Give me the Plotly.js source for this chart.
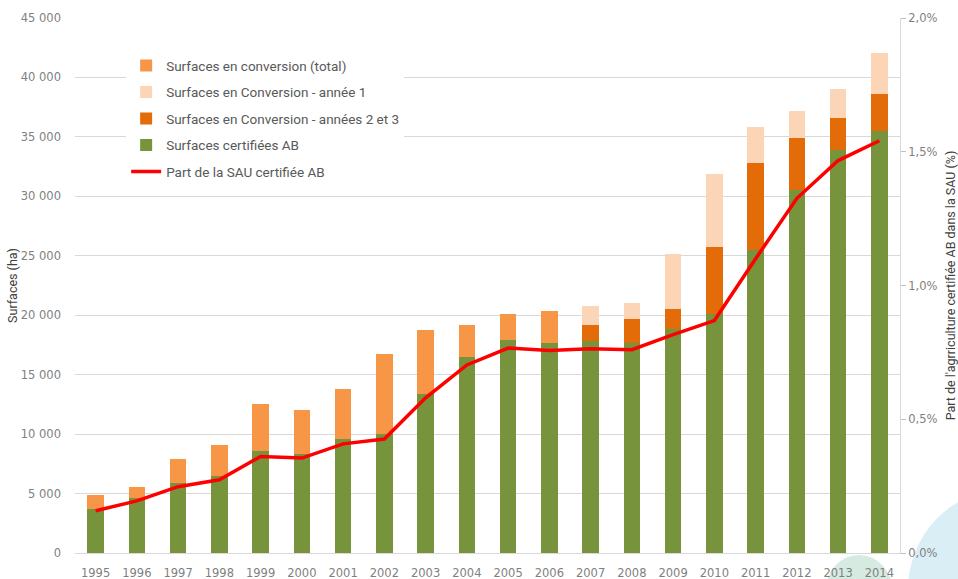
<!DOCTYPE html>
<html>
<head>
<meta charset="utf-8">
<script src="https://cdn.plot.ly/plotly-3.0.1.min.js"></script>
<style>
  html, body { margin: 0; padding: 0; background: #ffffff; }
  #chart { width: 958px; height: 579px; }
</style>
</head>
<body>
<div id="chart"></div>
<script>
// ---- Data ----
var years = ["1995","1996","1997","1998","1999","2000","2001","2002","2003","2004",
             "2005","2006","2007","2008","2009","2010","2011","2012","2013","2014"];

// Surfaces certifiées AB (ha)
var certifiees = [3720, 4590, 5850, 6500, 8540, 8340, 9600, 10050, 13390, 16470,
                  17920, 17670, 17810, 17650, 18870, 20110, 25490, 30530, 33920, 35510];

// Surfaces en conversion (total) (ha) - only detailed as a total until 2006
var conversionTotal = [1180, 980, 2020, 2600, 3980, 3730, 4230, 6720, 5400, 2720,
                       2190, 2690, null, null, null, null, null, null, null, null];

// Surfaces en Conversion - années 2 et 3 (ha)
var conversionAn23 = [null, null, null, null, null, null, null, null, null, null,
                      null, null, 1370, 2040, 1680, 5600, 7310, 4390, 2660, 3060];

// Surfaces en Conversion - année 1 (ha)
var conversionAn1 = [null, null, null, null, null, null, null, null, null, null,
                     null, null, 1620, 1340, 4580, 6190, 3000, 2270, 2440, 3500];

// Part de la SAU certifiée AB (%)
var partSAU = [0.158, 0.195, 0.248, 0.274, 0.361, 0.355, 0.408, 0.426, 0.580, 0.703,
               0.766, 0.757, 0.764, 0.760, 0.816, 0.869, 1.100, 1.326, 1.467, 1.541];

var tickFont = {family: "'DejaVu Sans', sans-serif", stretch: 'condensed', size: 11.5, color: '#7F7F7F'};
var textFont = "Roboto, 'Open Sans', sans-serif";

var traces = [
  {
    type: 'bar', name: 'Surfaces certifiées AB', x: years, y: certifiees,
    marker: {color: '#77933C', line: {width: 0}}, width: 0.4,
    legendgroup: 'g4', legendrank: 4, hoverinfo: 'skip'
  },
  {
    type: 'bar', name: 'Surfaces en Conversion - années 2 et 3', x: years, y: conversionAn23,
    marker: {color: '#E36C09', line: {width: 0}}, width: 0.4,
    legendgroup: 'g3', legendrank: 3, hoverinfo: 'skip'
  },
  {
    type: 'bar', name: 'Surfaces en Conversion - année 1', x: years, y: conversionAn1,
    marker: {color: '#FBD5B5', line: {width: 0}}, width: 0.4,
    legendgroup: 'g2', legendrank: 2, hoverinfo: 'skip'
  },
  {
    type: 'bar', name: 'Surfaces en conversion (total)', x: years, y: conversionTotal,
    marker: {color: '#F79646', line: {width: 0}}, width: 0.4,
    legendgroup: 'g1', legendrank: 1, hoverinfo: 'skip'
  },
  {
    type: 'scatter', mode: 'lines', name: 'Part de la SAU certifiée AB', x: years, y: partSAU,
    yaxis: 'y2', line: {color: '#FF0000', width: 3.5},
    legendgroup: 'g5', legendrank: 5, hoverinfo: 'skip'
  }
];

var layout = {
  width: 958, height: 579,
  margin: {l: 75, r: 58, t: 18, b: 26},
  paper_bgcolor: '#ffffff', plot_bgcolor: '#ffffff',
  separators: ', ',
  barmode: 'stack',
  showlegend: true,
  legend: {
    x: 0.062, y: 0.94, xanchor: 'left', yanchor: 'top',
    bgcolor: '#ffffff', borderwidth: 0,
    font: {family: textFont, size: 13.5, color: '#595959'},
    traceorder: 'grouped', tracegroupgap: 6
  },
  xaxis: {
    type: 'category', range: [-0.5, 19.5],
    showgrid: false, showline: true, linecolor: '#D9D9D9', linewidth: 1,
    ticks: '', ticklabelstandoff: 9,
    tickfont: tickFont,
    zeroline: false
  },
  yaxis: {
    range: [0, 45000], dtick: 5000, tick0: 0, tickformat: ',.0f',
    showgrid: true, gridcolor: '#D9D9D9', gridwidth: 1,
    showline: false, zeroline: false, ticks: '', ticklabelstandoff: 13,
    tickfont: tickFont,
    title: {text: 'Surfaces (ha)', font: {family: textFont, size: 12.5, color: '#404040'}, standoff: 0}
  },
  yaxis2: {
    overlaying: 'y', side: 'right',
    range: [0, 2], dtick: 0.5, tick0: 0, tickformat: '.1f', ticksuffix: '%',
    showgrid: false, zeroline: false,
    showline: true, linecolor: '#D9D9D9', linewidth: 1,
    ticks: 'outside', ticklen: 5, tickcolor: '#BFBFBF',
    tickfont: tickFont,
    title: {text: "Part de l'agrriculture certifiée AB dans la SAU (%)",
            font: {family: textFont, size: 12.5, color: '#404040'}, standoff: 10}
  },
  shapes: [
    {type: 'circle', xref: 'paper', yref: 'paper', layer: 'below',
     x0: (908 - 75) / 825, x1: (1100 - 75) / 825,
     y0: (553 - 690) / 535, y1: (553 - 490) / 535,
     fillcolor: '#DAEEF5', line: {width: 0}},
    {type: 'circle', xref: 'paper', yref: 'paper', layer: 'below',
     x0: (825 - 75) / 825, x1: (893 - 75) / 825,
     y0: (553 - 630) / 535, y1: (553 - 555) / 535,
     fillcolor: '#D6EAE1', line: {width: 0}}
  ]
};

Plotly.newPlot('chart', traces, layout, {staticPlot: true, displayModeBar: false});
</script>
</body>
</html>
